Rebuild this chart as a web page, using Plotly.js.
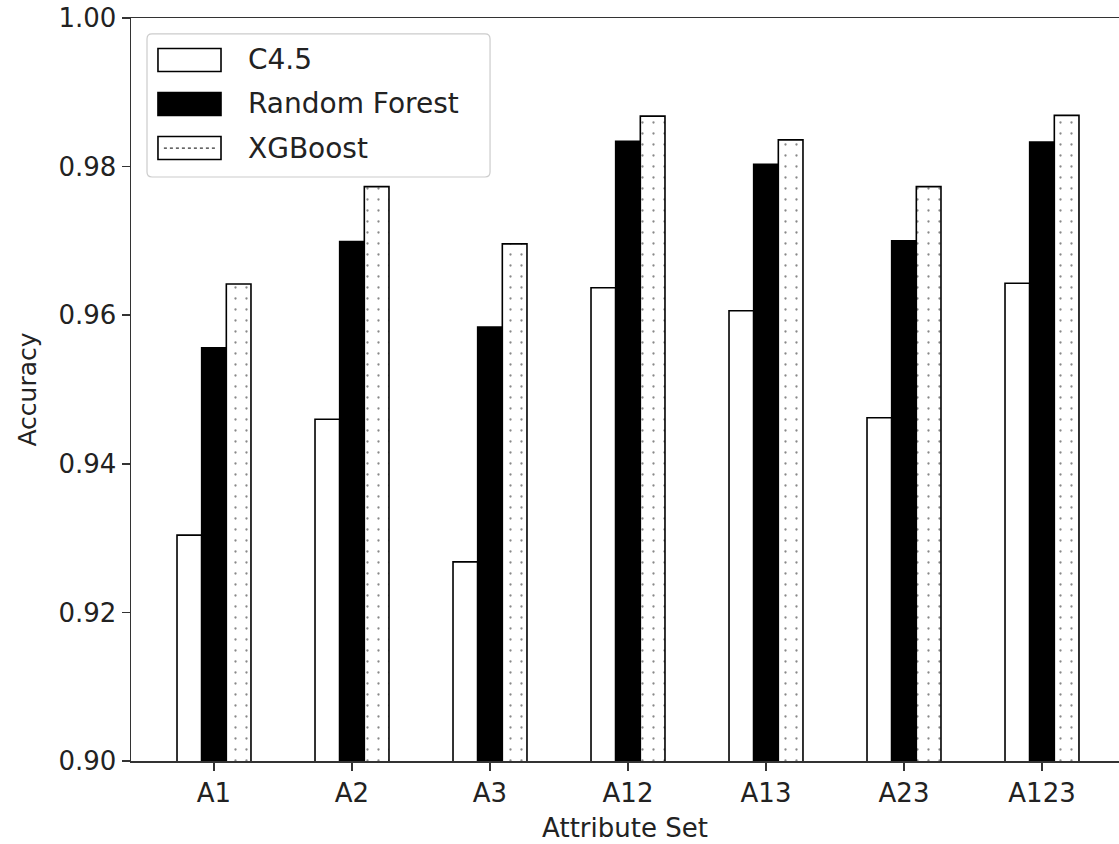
<!DOCTYPE html>
<html>
<head>
<meta charset="utf-8">
<script src="https://cdn.plot.ly/plotly-3.0.1.min.js"></script>
<style>html,body{margin:0;padding:0;background:#fff;}#chart{width:1119px;height:844px;}</style>
</head>
<body>
<div id="chart"></div>
<script>
const categories = ["A1", "A2", "A3", "A12", "A13", "A23", "A123"];
const c45 = [0.9304, 0.9460, 0.9268, 0.9637, 0.9606, 0.9462, 0.9643];
const randomForest = [0.9556, 0.9699, 0.9584, 0.9834, 0.9803, 0.9700, 0.9833];
const xgboost = [0.9642, 0.9773, 0.9696, 0.9868, 0.9836, 0.9773, 0.9869];
const seriesNames = ["C4.5", "Random Forest", "XGBoost"];
const yTicks = [0.90, 0.92, 0.94, 0.96, 0.98, 1.00];

const FONT = "DejaVu Sans, sans-serif";
const edge = {color: "#000", width: 1.6};

const traces = [
  {type: "bar", name: seriesNames[0], x: categories, y: c45,
   marker: {color: "#fff", line: edge}},
  {type: "bar", name: seriesNames[1], x: categories, y: randomForest,
   marker: {color: "#000", line: edge}},
  {type: "bar", name: seriesNames[2], x: categories, y: xgboost,
   marker: {color: "#fff", line: edge,
            pattern: {shape: ".", fgcolor: "#111", bgcolor: "#fff", size: 11, solidity: 0.035, fillmode: "overlay"}}}
];

// manual legend (matplotlib-style wide swatches), paper coordinates
const lx0 = 0.0273, lx1 = 0.0911;
const rows = [0.9435, 0.8843, 0.825];
const sh = 0.0155;
const bx0 = 0.0162, bx1 = 0.3634, by0 = 0.786, by1 = 0.9785;
const rx = 5 / 988, ry = 5 / 743;
const boxPath = `M ${bx0 + rx},${by1} L ${bx1 - rx},${by1} Q ${bx1},${by1} ${bx1},${by1 - ry} ` +
  `L ${bx1},${by0 + ry} Q ${bx1},${by0} ${bx1 - rx},${by0} L ${bx0 + rx},${by0} ` +
  `Q ${bx0},${by0} ${bx0},${by0 + ry} L ${bx0},${by1 - ry} Q ${bx0},${by1} ${bx0 + rx},${by1} Z`;
const shapes = [
  {type: "path", xref: "paper", yref: "paper", path: boxPath,
   line: {color: "#cccccc", width: 1.2}, fillcolor: "rgba(255,255,255,0.85)", layer: "above"},
  {type: "rect", xref: "paper", yref: "paper", x0: lx0, x1: lx1, y0: rows[0]-sh, y1: rows[0]+sh,
   line: {color: "#000", width: 1.6}, fillcolor: "#fff", layer: "above"},
  {type: "rect", xref: "paper", yref: "paper", x0: lx0, x1: lx1, y0: rows[1]-sh, y1: rows[1]+sh,
   line: {color: "#000", width: 1.6}, fillcolor: "#000", layer: "above"},
  {type: "rect", xref: "paper", yref: "paper", x0: lx0, x1: lx1, y0: rows[2]-sh, y1: rows[2]+sh,
   line: {color: "#000", width: 1.6}, fillcolor: "#fff", layer: "above"},
  {type: "line", xref: "paper", yref: "paper", x0: lx0+0.006, x1: lx1-0.006, y0: rows[2], y1: rows[2],
   line: {color: "#333", width: 1.3, dash: "dot"}, layer: "above"}
];
const annotations = seriesNames.map((n, i) => ({
  xref: "paper", yref: "paper", x: 0.1164, y: rows[i], text: n, showarrow: false,
  xanchor: "left", yanchor: "middle", font: {family: FONT, size: 28, color: "#222"}
}));

const layout = {
  width: 1119, height: 844,
  margin: {l: 131, r: 0, t: 18, b: 83},
  paper_bgcolor: "#fff", plot_bgcolor: "#fff",
  barmode: "group", bargap: 0.464, bargroupgap: 0,
  showlegend: false,
  font: {family: FONT, size: 26, color: "#222"},
  xaxis: {
    type: "category", range: [-0.6014, 6.558],
    showline: true, mirror: true, linecolor: "#333", linewidth: 1.5,
    ticks: "outside", ticklen: 8, tickwidth: 1.5, tickcolor: "#333",
    showgrid: false, zeroline: false,
    tickfont: {family: FONT, size: 26, color: "#222"},
    title: {text: "Attribute Set", font: {family: FONT, size: 26, color: "#222"}, standoff: 12}
  },
  yaxis: {
    range: [0.90, 1.00], tickvals: yTicks, tickformat: ".2f",
    showline: true, linecolor: "#333", linewidth: 1.5,
    ticks: "outside", ticklen: 8, tickwidth: 1.5, tickcolor: "#333",
    showgrid: false, zeroline: false,
    tickfont: {family: FONT, size: 26, color: "#222"},
    title: {text: "Accuracy", font: {family: FONT, size: 25, color: "#222"}, standoff: 14}
  },
  shapes: shapes,
  annotations: annotations
};

Plotly.newPlot("chart", traces, layout, {displayModeBar: false, staticPlot: true});
</script>
</body>
</html>
